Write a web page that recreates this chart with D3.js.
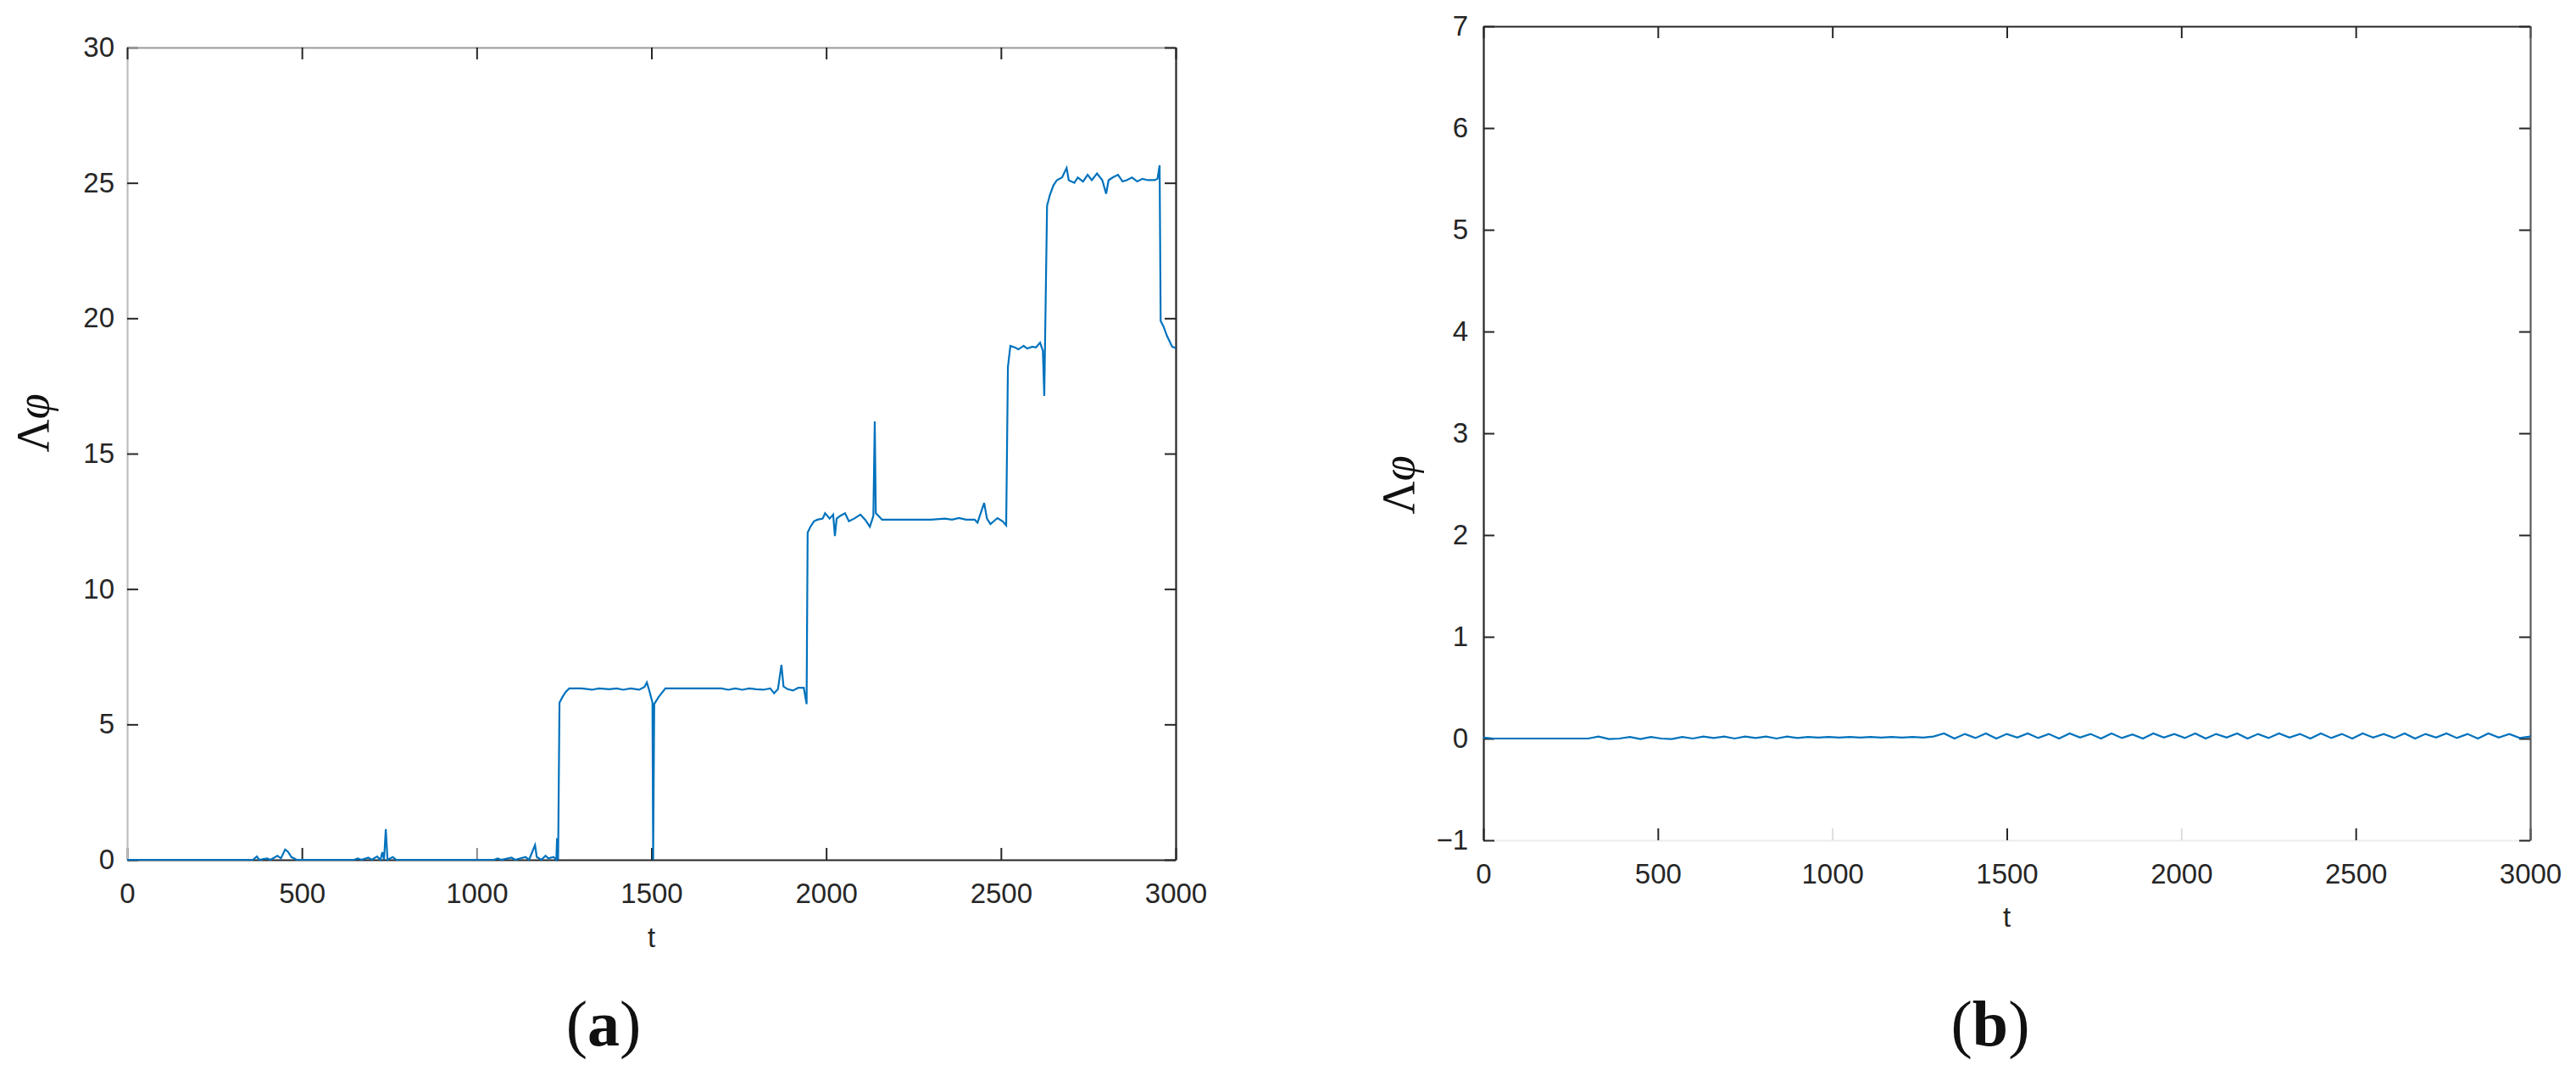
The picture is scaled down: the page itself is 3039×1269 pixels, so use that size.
<!DOCTYPE html>
<html>
<head>
<meta charset="utf-8">
<script src="https://cdn.jsdelivr.net/npm/d3@7/dist/d3.min.js"></script>
<style>
  body { margin: 0; background: #fff; }
  .tick text { font-family: "Liberation Sans", Arial, sans-serif; font-size: 33px; fill: #262626; }
  .lab { font-family: "Liberation Sans", Arial, sans-serif; font-size: 33px; fill: #262626; }
  .sym { font-family: "Liberation Serif", "Times New Roman", serif; font-size: 54px; fill: #111; }
  .cap { font-family: "Liberation Serif", "Times New Roman", serif; font-size: 76px; fill: #111; }
</style>
</head>
<body>
<div id="vis"></div>
<script>
// panel (a): phase difference over time
var tA = [0, 360, 371, 378, 400, 410, 430, 440, 452, 460, 470, 485,
  650, 660, 670, 690, 700, 715, 725, 730, 735, 740, 745, 760, 770,
  1050, 1060, 1070, 1100, 1110, 1140, 1150, 1167, 1172, 1185, 1197, 1205, 1220, 1228, 1230, 1233,
  1237, 1245, 1255, 1265, 1300, 1330, 1350, 1380, 1400, 1420, 1440, 1465, 1480, 1487, 1495, 1503,
  1505, 1508, 1520, 1540, 1620, 1700, 1720, 1740, 1760, 1780, 1800, 1820, 1840, 1851, 1862, 1872,
  1878, 1890, 1905, 1920, 1936, 1944,
  1947, 1955, 1965, 1975, 1990, 1997, 2010, 2020, 2025, 2030, 2040, 2054, 2065, 2080, 2098, 2112,
  2125, 2135, 2139, 2142, 2150, 2160, 2300, 2340, 2360, 2380, 2400, 2425, 2433, 2452, 2460, 2470,
  2490, 2505, 2515,
  2520, 2527, 2540, 2550, 2565, 2575, 2590, 2600, 2612, 2620, 2624,
  2632, 2640, 2650, 2660, 2675, 2688, 2694, 2710, 2720, 2735, 2748, 2760, 2775, 2790, 2801, 2808,
  2820, 2835, 2848, 2860, 2875, 2890, 2905, 2920, 2940, 2948, 2954,
  2957, 2965, 2975, 2990, 3000];
var vA = [0, 0, 0.12, 0, 0.05, 0, 0.15, 0.05, 0.38, 0.3, 0.1, 0,
  0, 0.05, 0, 0.08, 0, 0.12, 0, 0.28, 0, 1.13, 0, 0.1, 0,
  0, 0.05, 0, 0.08, 0, 0.1, 0, 0.54, 0.1, 0, 0.15, 0.05, 0.1, 0, 0.8, 0,
  5.8, 6.0, 6.2, 6.33, 6.33, 6.28, 6.33, 6.3, 6.33, 6.28, 6.33, 6.28, 6.38, 6.55, 6.2, 5.8,
  0, 5.75, 6.0, 6.33, 6.33, 6.33, 6.28, 6.33, 6.28, 6.33, 6.3, 6.28, 6.33, 6.15, 6.3, 7.2,
  6.4, 6.3, 6.25, 6.35, 6.35, 5.75,
  12.09, 12.3, 12.5, 12.56, 12.6, 12.8, 12.6, 12.75, 11.96, 12.6, 12.7, 12.8, 12.5, 12.6, 12.75, 12.55,
  12.3, 12.7, 16.19, 12.8, 12.7, 12.56, 12.56, 12.6, 12.56, 12.62, 12.56, 12.56, 12.45, 13.18, 12.6, 12.4,
  12.62, 12.5, 12.35,
  18.2, 18.98, 18.92, 18.85, 18.98, 18.88, 18.95, 18.92, 19.1, 18.8, 17.13,
  24.15, 24.55, 24.9, 25.1, 25.2, 25.55, 25.1, 25.0, 25.2, 25.05, 25.3, 25.1, 25.35, 25.1, 24.6, 25.1,
  25.2, 25.3, 25.05, 25.1, 25.2, 25.05, 25.15, 25.1, 25.1, 25.15, 25.65,
  19.9, 19.7, 19.35, 18.95, 18.9];

// panel (b): stays close to zero, sampled every 30
var tB = d3.range(0, 3001, 30);
var vB = [0.01, 0, 0, 0, 0, 0, 0, 0, 0, 0, 0,
  0.02, -0.005, 0, 0.015, -0.005, 0.015, 0, -0.005, 0.015, 0, 0.02,
  0.005, 0.02, 0, 0.02, 0.005, 0.02, 0, 0.02, 0.005, 0.015, 0.01,
  0.015, 0.01, 0.015, 0.01, 0.015, 0.01, 0.015, 0.01, 0.015, 0.01, 0.02,
  0.05, 0.0, 0.045, 0.005, 0.05, 0.0, 0.045, 0.01, 0.05, 0.005, 0.045,
  0.0, 0.05, 0.01, 0.045, 0.0, 0.05, 0.005, 0.04, 0.0, 0.05, 0.01,
  0.045, 0.005, 0.05, 0.0, 0.045, 0.01, 0.05, 0.0, 0.045, 0.005, 0.05,
  0.01, 0.045, 0.0, 0.05, 0.005, 0.045, 0.0, 0.05, 0.01, 0.045, 0.005,
  0.05, 0.0, 0.045, 0.01, 0.05, 0.005, 0.045, 0.0, 0.05, 0.01, 0.045, 0.005, 0.02];

var xTicks = [0, 500, 1000, 1500, 2000, 2500, 3000];
var yTicksA = [0, 5, 10, 15, 20, 25, 30];
var yTicksB = [-1, 0, 1, 2, 3, 4, 5, 6, 7];

var svg = d3.select("div#vis").append("svg")
    .attr("width", 3039)
    .attr("height", 1269);

function panel(cfg) {
  var x = d3.scaleLinear().domain([0, 3000]).range([cfg.left, cfg.right]);
  var y = d3.scaleLinear().domain(cfg.ydomain).range([cfg.bottom, cfg.top]);
  var g = svg.append("g");

  var sides = [
    {ax: d3.axisBottom(x).tickValues(xTicks).tickFormat(d3.format("d")).tickPadding(28), at: "translate(0," + cfg.bottom + ")", col: cfg.cols[0]},
    {ax: d3.axisLeft(y).tickValues(cfg.yticks).tickFormat(d3.format("d")).tickPadding(cfg.ypad), at: "translate(" + cfg.left + ",0)", col: cfg.cols[1]},
    {ax: d3.axisTop(x).tickValues(xTicks).tickFormat(""), at: "translate(0," + cfg.top + ")", col: cfg.cols[2]},
    {ax: d3.axisRight(y).tickValues(cfg.yticks).tickFormat(""), at: "translate(" + cfg.right + ",0)", col: cfg.cols[3]}
  ];
  sides.forEach(function(s, i) {
    s.ax.tickSizeInner(i % 2 == 0 ? -14 : -13).tickSizeOuter(0);
    var a = g.append("g").attr("transform", s.at).call(s.ax);
    a.select(".domain").attr("stroke", s.col).attr("stroke-width", 2.2);
    a.selectAll(".tick line").attr("stroke", "#262626").attr("stroke-width", 2);
  });
  // a few ticks came out pale in the original
  g.selectAll(".tick line").filter(function(d) { return cfg.paleX.indexOf(d) >= 0 && this.parentNode.parentNode == g.node().firstChild; })
    .attr("stroke", cfg.paleCol);

  var line = d3.line()
    .x(function(d) { return x(d[0]); })
    .y(function(d) { return y(d[1]); });

  g.append("path")
    .datum(d3.zip(cfg.t, cfg.v))
    .attr("fill", "none")
    .attr("stroke", "#0072BD")
    .attr("stroke-width", 2.2)
    .attr("stroke-linejoin", "miter")
    .attr("d", line);

  var cx = (cfg.left + cfg.right) / 2;
  g.append("text")
    .attr("class", "lab")
    .attr("x", cx)
    .attr("y", cfg.bottom + cfg.tdy)
    .attr("text-anchor", "middle")
    .text("t");

  var lab = g.append("text")
    .attr("class", "sym")
    .attr("transform", "translate(" + cfg.lx + "," + cfg.ly + ") rotate(-90)")
    .attr("text-anchor", "middle");
  lab.append("tspan").text("Λ");
  lab.append("tspan").attr("font-style", "italic").text("φ");

  var cap = g.append("text")
    .attr("class", "cap")
    .attr("x", cfg.capx)
    .attr("y", 1233)
    .attr("text-anchor", "middle");
  cap.append("tspan").text("(");
  cap.append("tspan").attr("font-weight", "bold").text(cfg.letter);
  cap.append("tspan").text(")");
}

panel({
  left: 150, right: 1387, top: 56, bottom: 1014,
  ydomain: [0, 30], yticks: yTicksA, ypad: 15,
  cols: ["#262626", "#bdbdbd", "#9a9a9a", "#262626"],
  paleX: [1000], paleCol: "#8a8a8a",
  t: tA, v: vA,
  tdy: 103, lx: 57, ly: 499, capx: 712, letter: "a"
});

panel({
  left: 1750, right: 2985, top: 31, bottom: 991,
  ydomain: [-1, 7], yticks: yTicksB, ypad: 18,
  cols: ["#ececec", "#262626", "#262626", "#5a5a5a"],
  paleX: [1000, 2000], paleCol: "#dddddd",
  t: tB, v: vB,
  tdy: 102, lx: 1668, ly: 572, capx: 2348, letter: "b"
});
</script>
</body>
</html>
